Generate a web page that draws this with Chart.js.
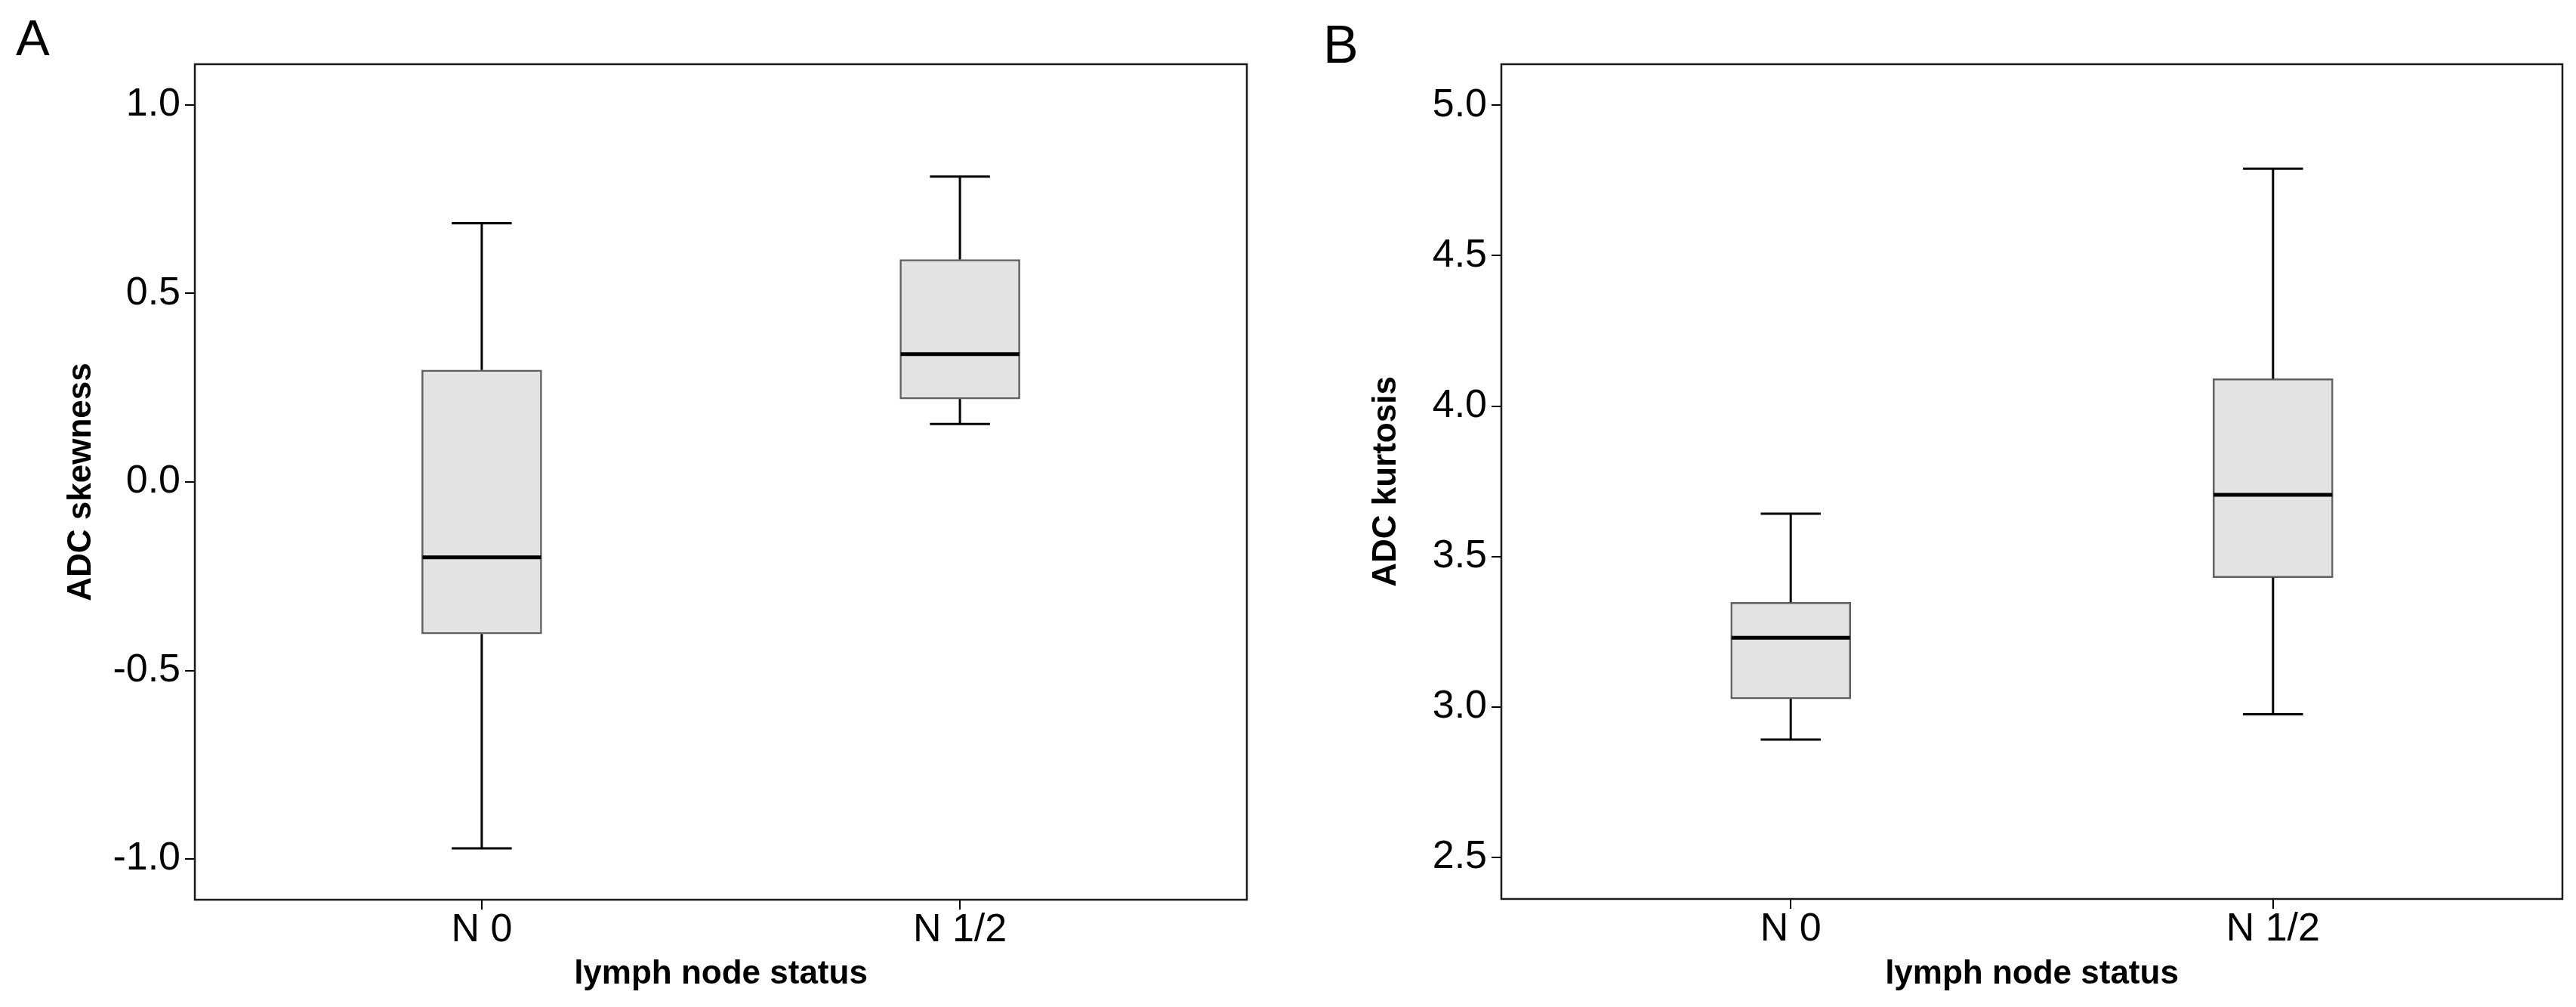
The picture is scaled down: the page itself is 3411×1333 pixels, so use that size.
<!DOCTYPE html>
<html>
<head>
<meta charset="utf-8">
<script src="https://cdn.jsdelivr.net/npm/chart.js@4.4.0/dist/chart.umd.min.js"></script>
<style>
  body { margin: 0; background: #fff; width: 3411px; height: 1333px; position: relative; overflow: hidden; }
  canvas { position: absolute; top: 0; }
  .panel-tag { position: absolute; font-family: 'Liberation Sans', Arial, sans-serif; line-height: 1; color: #000; }
</style>
</head>
<body>
<div class="panel-tag" style="left:21px; top:16px; font-size:67px">A</div>
<div class="panel-tag" style="left:1752px; top:24px; font-size:70px">B</div>
<canvas id="chart-a" width="1700" height="1333" style="left:0"></canvas>
<canvas id="chart-b" width="1711" height="1333" style="left:1700px"></canvas>
<script>
/**
 * Box plots of ADC histogram parameters by lymph node status
 */

const groups = ['N 0', 'N 1/2'];

// Panel A — ADC skewness
const skewMin    = [-0.972, 0.154];
const skewQ1     = [-0.403, 0.220];
const skewMedian = [-0.200, 0.339];
const skewQ3     = [0.297, 0.590];
const skewMax    = [0.686, 0.810];
const skewTicks  = [-1.0, -0.5, 0.0, 0.5, 1.0];
const skewRange  = [-1.108, 1.108];

// Panel B — ADC kurtosis
const kurtMin    = [2.892, 2.976];
const kurtQ1     = [3.027, 3.430];
const kurtMedian = [3.230, 3.705];
const kurtQ3     = [3.348, 4.091];
const kurtMax    = [3.642, 4.789];
const kurtTicks  = [2.5, 3.0, 3.5, 4.0, 4.5, 5.0];
const kurtRange  = [2.362, 5.136];

const FONT = "'Liberation Sans', Arial, sans-serif";

function line(ctx, x1, y1, x2, y2) {
  ctx.beginPath();
  ctx.moveTo(x1, y1);
  ctx.lineTo(x2, y2);
  ctx.stroke();
}

// whiskers, caps and median on top of the floating bars
const whiskerPlugin = {
  id: 'whiskers',
  afterDatasetsDraw(chart, args, opts) {
    const { ctx, scales: { x, y } } = chart;
    const meta = chart.getDatasetMeta(0);
    const s = opts.stats;
    ctx.save();
    ctx.strokeStyle = '#000';
    groups.forEach((_, i) => {
      const cx   = x.getPixelForValue(i);
      const half = meta.data[i].width / 2;
      const cap  = half / 2;
      const yMax = y.getPixelForValue(s.max[i]);
      const yQ3  = y.getPixelForValue(s.q3[i]);
      const yQ1  = y.getPixelForValue(s.q1[i]);
      const yMin = y.getPixelForValue(s.min[i]);
      const yMed = y.getPixelForValue(s.median[i]);

      ctx.lineWidth = 3;
      line(ctx, cx, yMax, cx, yQ3);
      line(ctx, cx, yQ1, cx, yMin);
      line(ctx, cx - cap, yMax, cx + cap, yMax);
      line(ctx, cx - cap, yMin, cx + cap, yMin);

      ctx.lineWidth = 5;
      line(ctx, cx - half + 1, yMed, cx + half - 1, yMed);
    });
    ctx.restore();
  },
  afterDraw(chart) {
    // closed frame round the plot area
    const { ctx, chartArea: a } = chart;
    ctx.save();
    ctx.strokeStyle = '#1a1a1a';
    ctx.lineWidth = 2.5;
    ctx.strokeRect(a.left, a.top, a.right - a.left, a.bottom - a.top);
    ctx.restore();
  }
};

function renderBoxChart(canvasId, stats, yRange, yTicks, yTitle, frame) {
  const canvas = document.getElementById(canvasId);

  return new Chart(canvas.getContext('2d'), {
    type: 'bar',
    data: {
      datasets: [{
        label: yTitle,
        data: groups.map((_, i) => ({ x: i, y: [stats.q1[i], stats.q3[i]] })),
        backgroundColor: '#e3e3e3',
        borderColor: '#606060',
        borderWidth: 2.5,
        borderSkipped: false,
        barThickness: 159
      }]
    },
    plugins: [whiskerPlugin],
    options: {
      responsive: false,
      devicePixelRatio: 1,
      animation: false,
      layout: { padding: { top: 85, right: frame.right, left: 0, bottom: 0 } },
      plugins: {
        legend : { display: false },
        tooltip: { enabled: false },
        whiskers: { stats }
      },
      scales: {
        x: {
          type: 'linear',
          min : -0.6,
          max : 1.6,
          offset: false,
          afterBuildTicks: (scale) => { scale.ticks = groups.map((_, i) => ({ value: i })); },
          afterFit: (scale) => { scale.height = frame.bottom; },
          grid  : { offset: false, drawOnChartArea: false, drawTicks: true, tickLength: 13, color: '#000', lineWidth: 2 },
          border: { display: false },
          ticks : {
            autoSkip: false,
            maxRotation: 0,
            padding : 4,
            color   : '#000',
            font    : { size: 52, family: FONT, lineHeight: 0.9 },
            callback: (v) => groups[v] ?? ''
          },
          title: {
            display: true,
            text   : 'lymph node status',
            color  : '#000',
            padding: { top: 0, bottom: 17 },
            font   : { size: 44, weight: 'bold', family: FONT }
          }
        },
        y: {
          min: yRange[0],
          max: yRange[1],
          afterBuildTicks: (scale) => { scale.ticks = yTicks.map(v => ({ value: v })); },
          afterFit: (scale) => { scale.width = frame.left; },
          grid  : { drawOnChartArea: false, drawTicks: true, tickLength: 13, color: '#000', lineWidth: 2 },
          border: { display: false },
          ticks : {
            autoSkip: false,
            padding : 6,
            color   : '#000',
            font    : { size: 52, family: FONT },
            callback: (v) => v.toFixed(1)
          },
          title: {
            display: true,
            text   : yTitle,
            color  : '#000',
            padding: { top: frame.titleGap, bottom: 0 },
            font   : { size: 44, weight: 'bold', family: FONT }
          }
        }
      }
    }
  });
}

renderBoxChart('chart-a',
  { min: skewMin, q1: skewQ1, median: skewMedian, q3: skewQ3, max: skewMax },
  skewRange, skewTicks, 'ADC skewness',
  { left: 258, right: 49, bottom: 142, titleGap: 81 });

renderBoxChart('chart-b',
  { min: kurtMin, q1: kurtQ1, median: kurtMedian, q3: kurtQ3, max: kurtMax },
  kurtRange, kurtTicks, 'ADC kurtosis',
  { left: 288, right: 18, bottom: 143, titleGap: 109 });
</script>
</body>
</html>
